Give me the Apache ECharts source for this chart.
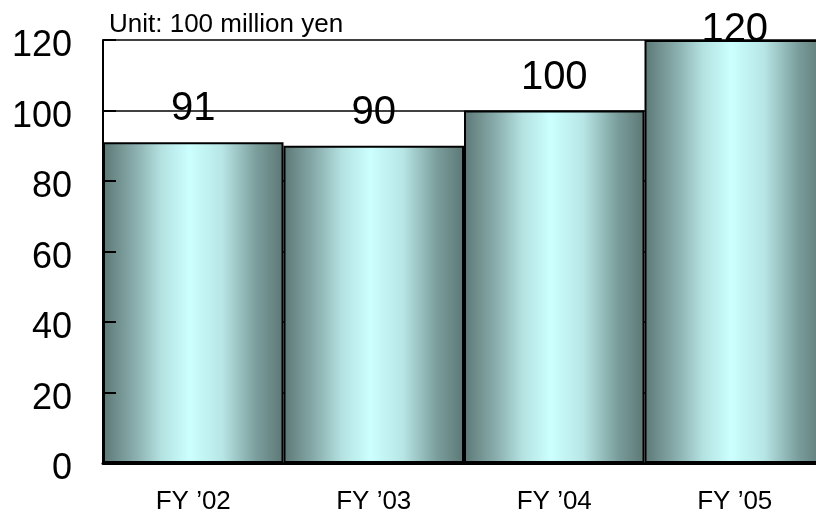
<!DOCTYPE html>
<html>
<head>
<meta charset="utf-8">
<script src="https://cdn.jsdelivr.net/npm/echarts@6/dist/echarts.min.js"></script>
<style>
  html, body { margin: 0; padding: 0; background: #fff; }
  #chart { width: 816px; height: 513px; }
</style>
</head>
<body>
<div id="chart"></div>
<script>
// Fiscal years and net sales (unit: 100 million yen)
const categories = ['FY \u201902', 'FY \u201903', 'FY \u201904', 'FY \u201905'];
const salesValues = [91, 90, 100, 120];
const yMin = 0;
const yMax = 120;
const yStep = 20;
const unitText = 'Unit: 100 million yen';

const FONT = '"Liberation Sans", Arial, Helvetica, sans-serif';

// Cylinder-like shading across each bar
const barFill = new echarts.graphic.LinearGradient(0, 0, 1, 0, [
  { offset: 0, color: '#5c7775' },
  { offset: 0.2, color: '#8fb5b4' },
  { offset: 0.32, color: '#b3e1e0' },
  { offset: 0.48, color: '#ccffff' },
  { offset: 0.66, color: '#b8e6e6' },
  { offset: 0.85, color: '#7a9e9c' },
  { offset: 1, color: '#5c7775' }
]);

// The tallest bar reaches the top of the plot, so its label sits lower
const barData = salesValues.map(function (v) {
  const item = { value: v };
  if (v >= yMax) {
    item.label = { offset: [0, 23] };
  }
  return item;
});

const chart = echarts.init(document.getElementById('chart'), null, { renderer: 'canvas' });

chart.setOption({
  animation: false,
  backgroundColor: '#ffffff',
  grid: { left: 103, top: 40, bottom: 50, width: 722, outerBoundsMode: 'none', containLabel: false },
  xAxis: {
    type: 'category',
    data: categories,
    axisLine: { show: true, lineStyle: { color: '#000', width: 3 } },
    axisTick: { show: false },
    axisLabel: { color: '#000', fontFamily: FONT, fontSize: 26, margin: 26 },
    z: 10
  },
  yAxis: [
    {
      // grid lines behind the bars
      type: 'value',
      min: yMin, max: yMax, interval: yStep,
      axisLine: { show: false },
      axisTick: { show: false },
      axisLabel: { show: false },
      splitLine: { show: true, lineStyle: { color: '#000', width: 1.5 } },
      z: 0
    },
    {
      // axis line, inner ticks and labels drawn over the bars
      type: 'value',
      position: 'left',
      min: yMin, max: yMax, interval: yStep,
      axisLine: { show: true, lineStyle: { color: '#000', width: 2 } },
      axisTick: { show: true, inside: true, length: 13, lineStyle: { color: '#000', width: 2 } },
      axisLabel: {
        margin: 31,
        formatter: '{v|{value}}',
        rich: {
          v: { color: '#000', fontFamily: FONT, fontSize: 36, padding: [13, 0, 0, 0] }
        }
      },
      splitLine: { show: false },
      z: 10
    }
  ],
  series: [
    {
      type: 'bar',
      yAxisIndex: 0,
      data: barData,
      barCategoryGap: '0%',
      itemStyle: { color: barFill, borderColor: '#000', borderWidth: 2 },
      label: {
        show: true,
        position: 'top',
        distance: 13,
        color: '#000',
        fontFamily: FONT,
        fontSize: 40
      },
      z: 2
    }
  ],
  graphic: [
    {
      type: 'text',
      left: 109,
      top: 12,
      style: { text: unitText, fill: '#000', font: '26px ' + FONT }
    }
  ]
});
</script>
</body>
</html>
